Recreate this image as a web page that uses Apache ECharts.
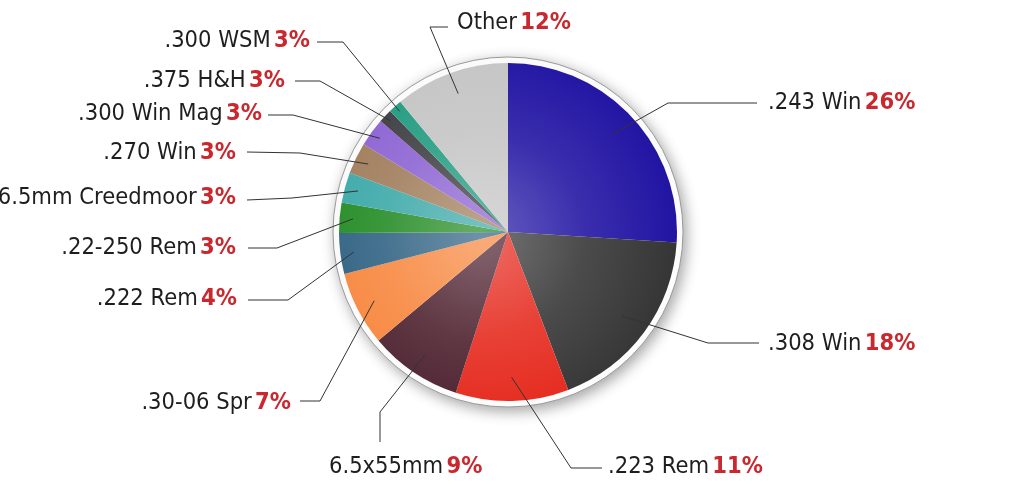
<!DOCTYPE html>
<html>
<head>
<meta charset="utf-8">
<script src="https://cdn.jsdelivr.net/npm/echarts@6/dist/echarts.min.js"></script>
<style>html,body{margin:0;padding:0;background:#fff}#c{width:1024px;height:496px}</style>
</head>
<body>
<div id="c"></div>
<script>
// ---- data ----
const categories = ['.243 Win', '.308 Win', '.223 Rem', '6.5x55mm', '.30-06 Spr', '.222 Rem', '.22-250 Rem', '6.5mm Creedmoor', '.270 Win', '.300 Win Mag', '.375 H&H', '.300 WSM', 'Other'];
// slice sizes as drawn in the picture (percent of the circle)
const sliceShares = [26, 18.2, 10.8, 8.9, 7.1, 3.9, 2.9, 2.9, 3.0, 2.7, 1.3, 1.3, 11.0];
// percentages as printed on the labels
const printedPercents = [26, 18, 11, 9, 7, 4, 3, 3, 3, 3, 3, 3, 12];
const baseColors = ['#1f12a2', '#333333', '#e5261a', '#4a1e2c', '#f7843a', '#2c5f80', '#1f891f', '#38a6a6', '#9e7a58', '#8a60d2', '#3a3a40', '#1e9a7e', '#c4c4c4'];

// ---- layout (styling only) ----
const CX = 508, CY = 232, R = 169;
// per label: text anchor, align, elbow, end of leader, start radius ratio
const labelSpots = [
  {t: [768, 103], a: 'left',  elbow: [668, 103], end: [757, 103], k: 0.84},
  {t: [768, 344], a: 'left',  elbow: [708, 343], end: [759, 343], k: 0.84},
  {t: [608, 467], a: 'left',  elbow: [571, 468], end: [602, 468], k: 0.86},
  {t: [329, 467], a: 'left',  elbow: [380, 412], end: [380, 442], k: 0.88},
  {t: [291, 403], a: 'right', elbow: [320, 401], end: [300, 401], k: 0.89},
  {t: [237, 299], a: 'right', elbow: [288, 300], end: [248, 300], k: 0.92},
  {t: [236, 248], a: 'right', elbow: [277, 248], end: [248, 248], k: 0.92},
  {t: [236, 198], a: 'right', elbow: [292, 198], end: [247, 200], k: 0.92},
  {t: [236, 153], a: 'right', elbow: [300, 153], end: [247, 152], k: 0.92},
  {t: [262, 114], a: 'right', elbow: [293, 115], end: [268, 115], k: 0.94},
  {t: [285, 81],  a: 'right', elbow: [320, 81],  end: [295, 81],  k: 0.96},
  {t: [310, 41],  a: 'right', elbow: [343, 42],  end: [317, 42],  k: 0.96},
  {t: [457, 23],  a: 'left',  elbow: [430, 27],  end: [448, 27],  k: 0.87}
];

function lighten(hex, f) {
  const n = parseInt(hex.slice(1), 16);
  let r = (n >> 16) & 255, g = (n >> 8) & 255, b = n & 255;
  r = Math.round(r + (255 - r) * f); g = Math.round(g + (255 - g) * f); b = Math.round(b + (255 - b) * f);
  return 'rgb(' + r + ',' + g + ',' + b + ')';
}
function shade(hex) {
  return {
    type: 'radial', x: CX - 25, y: CY + 5, r: R * 1.2, global: true,
    colorStops: [
      {offset: 0, color: lighten(hex, 0.32)},
      {offset: 0.5, color: lighten(hex, 0.12)},
      {offset: 1, color: lighten(hex, 0)}
    ]
  };
}

const FONT = "'Liberation Sans Narrow', 'DejaVu Sans Condensed', 'Roboto', sans-serif";

const total = sliceShares.reduce((a, b) => a + b, 0);
const midAngles = [];
sliceShares.reduce((acc, v) => { midAngles.push((acc + v / 2) / total * 2 * Math.PI); return acc + v; }, 0);

const pieData = categories.map((name, i) => ({
  name: name,
  value: sliceShares[i],
  pct: printedPercents[i],
  itemStyle: {color: shade(baseColors[i])}
}));
const labelData = categories.map((name, i) => ({
  name: name,
  value: sliceShares[i],
  pct: printedPercents[i]
}));

const chart = echarts.init(document.getElementById('c'), null, {renderer: 'canvas'});
chart.setOption({
  backgroundColor: '#ffffff',
  animation: false,
  series: [
    {
      type: 'pie',
      silent: true,
      center: [CX, CY],
      radius: R + 6,
      z: 1,
      label: {show: false},
      labelLine: {show: false},
      itemStyle: {
        color: '#ffffff', borderColor: '#9a9a9a', borderWidth: 1,
        shadowBlur: 14, shadowColor: 'rgba(0,0,0,0.35)', shadowOffsetX: 3, shadowOffsetY: 4
      },
      data: [{value: 1, name: 'ring'}]
    },
    {
      type: 'pie',
      center: [CX, CY],
      radius: R,
      startAngle: 90,
      clockwise: true,
      z: 2,
      itemStyle: {borderWidth: 0},
      label: {show: false},
      labelLine: {show: false},
      data: pieData
    },
    {
      // transparent twin that carries the labels and leader lines above the slices
      type: 'pie',
      silent: true,
      center: [CX, CY],
      radius: R,
      startAngle: 90,
      clockwise: true,
      z: 3,
      avoidLabelOverlap: false,
      itemStyle: {color: 'rgba(0,0,0,0)', borderWidth: 0},
      label: {
        show: true,
        position: 'outside',
        formatter: p => '{n|' + p.name + '} {p|' + p.data.pct + '%}',
        rich: {
          n: {fontFamily: FONT, fontSize: 23.5, color: '#1e1e1e', fontWeight: 'normal'},
          p: {fontFamily: FONT, fontSize: 23.5, color: '#c8282e', fontWeight: 'bold'}
        }
      },
      labelLine: {show: true, length: 20, length2: 20, lineStyle: {color: '#333333', width: 1}},
      labelLayout: function (params) {
        const i = params.dataIndex;
        const s = labelSpots[i];
        const a = midAngles[i];
        const start = [CX + Math.sin(a) * R * s.k, CY - Math.cos(a) * R * s.k];
        return {
          x: s.t[0], y: s.t[1], align: s.a, verticalAlign: 'middle',
          labelLinePoints: [start, s.elbow, s.end]
        };
      },
      data: labelData
    }
  ]
});
</script>
</body>
</html>
